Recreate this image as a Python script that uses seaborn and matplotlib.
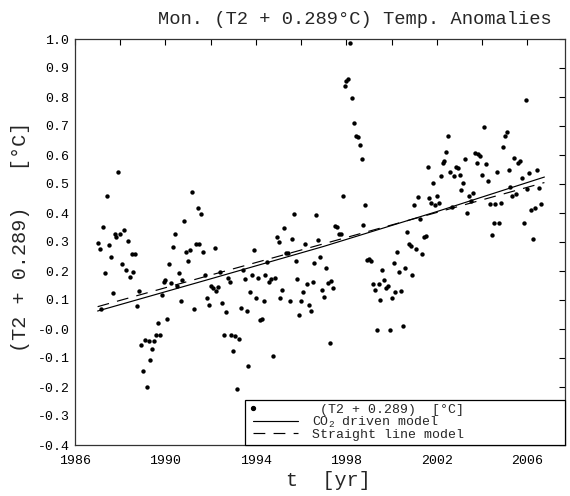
import numpy as np
import pandas as pd
import matplotlib
matplotlib.use("Agg")
import matplotlib.pyplot as plt
import seaborn as sns
from matplotlib.lines import Line2D
from matplotlib.font_manager import FontProperties

# ---------------- data ----------------
start_year = 1987.0  # monthly values start January 1987

anom_1987_1991 = [0.298, 0.277, 0.069, 0.351, 0.194, 0.457, 0.288, 0.248, 0.125, 0.328,
                  0.316, 0.542, 0.327, 0.225, 0.341, 0.205, 0.302, 0.181, 0.258, 0.198,
                  0.258, 0.080, 0.132, -0.054, -0.144, -0.038, -0.200, -0.040, -0.107, -0.069,
                  -0.040, -0.022, 0.022, -0.022, 0.116, 0.163, 0.168, 0.033, 0.225, 0.159,
                  0.282, 0.328, 0.147, 0.193, 0.095, 0.168, 0.373, 0.265, 0.235, 0.273,
                  0.471, 0.069, 0.294, 0.417, 0.294, 0.395, 0.266, 0.186, 0.107, 0.084,
                  0.149]
anom_1992_1997 = [0.141, 0.281, 0.130, 0.145, 0.195, 0.091, -0.022, 0.058, 0.176, 0.162,
                  -0.022, -0.075, -0.023, -0.206, -0.036, 0.072, 0.204, 0.172, 0.063, -0.126,
                  0.126, 0.185, 0.271, 0.106, 0.177, 0.031, 0.033, 0.096, 0.187, 0.230,
                  0.163, 0.172, -0.093, 0.176, 0.316, 0.300, 0.108, 0.135, 0.349, 0.263,
                  0.262, 0.095, 0.310, 0.397, 0.233, 0.174, 0.049, 0.096, 0.126, 0.294,
                  0.154, 0.084, 0.063, 0.163, 0.228, 0.394, 0.306, 0.247, 0.135, 0.112,
                  0.211, 0.158, -0.049]
anom_1997_2002 = [0.164, 0.142, 0.354, 0.351, 0.328, 0.328, 0.457, 0.838, 0.856, 0.861,
                  0.985, 0.796, 0.709, 0.664, 0.661, 0.633, 0.587, 0.359, 0.426, 0.239,
                  0.243, 0.236, 0.155, 0.134, -0.002, 0.156, 0.099, 0.202, 0.170, 0.141,
                  0.147, -0.002, 0.107, 0.227, 0.126, 0.267, 0.197, 0.132, 0.009, 0.209,
                  0.333, 0.294, 0.285, 0.187, 0.429, 0.275, 0.455, 0.379, 0.259, 0.317,
                  0.319, 0.557, 0.453, 0.436, 0.505, 0.428, 0.459, 0.436, 0.526, 0.572,
                  0.581, 0.612, 0.664]
anom_2002_2006 = [0.543, 0.420, 0.526, 0.557, 0.554, 0.532, 0.480, 0.503, 0.587, 0.399,
                  0.457, 0.443, 0.468, 0.606, 0.572, 0.605, 0.595, 0.532, 0.696, 0.568,
                  0.512, 0.432, 0.325, 0.367, 0.432, 0.543, 0.367, 0.436, 0.629, 0.666,
                  0.681, 0.549, 0.491, 0.460, 0.589, 0.465, 0.572, 0.581, 0.520, 0.365,
                  0.790, 0.483, 0.537, 0.411, 0.311, 0.417, 0.549, 0.487, 0.432]

model_years = [1987.0, 1992.0, 1997.0, 2002.0, 2006.75]
co2_model = [0.062, 0.173, 0.285, 0.405, 0.524]
straight_model = [0.077, 0.186, 0.294, 0.402, 0.505]

title = "Mon. (T2 + 0.289°C) Temp. Anomalies"
xlabel = "t  [yr]"
ylabel = "(T2 + 0.289)   [°C]"
legend_labels = ["(T2 + 0.289)  [°C]", r"CO$_2$ driven model", "Straight line model"]

# ---------------- build frame ----------------
anom = np.array(anom_1987_1991 + anom_1992_1997 + anom_1997_2002 + anom_2002_2006)
months = np.arange(len(anom))
df = pd.DataFrame({"t": start_year + months / 12.0, "anom": anom})
models = pd.DataFrame({"t": model_years, "co2": co2_model, "line": straight_model})

sns.set_theme(style="white")
mono = "Liberation Mono"
fam = [mono, "DejaVu Sans Mono", "DejaVu Sans"]
plt.rcParams["font.family"] = fam
plt.rcParams["axes.unicode_minus"] = False
plt.rcParams["mathtext.fontset"] = "custom"
plt.rcParams["mathtext.rm"] = mono
plt.rcParams["mathtext.it"] = mono

fig = plt.figure(figsize=(5.70, 4.96), dpi=100)
ax = fig.add_axes([75 / 570, 1 - 445 / 496, 490 / 570, 406 / 496])

sns.scatterplot(data=df, x="t", y="anom", ax=ax, color="black", s=10,
                linewidth=0, legend=False, zorder=3)
sns.lineplot(data=models, x="t", y="co2", ax=ax, color="black", lw=0.85,
             legend=False, zorder=2)
sns.lineplot(data=models, x="t", y="line", ax=ax, color="black", lw=0.85,
             linestyle=(0, (10, 7)), legend=False, zorder=2)

ax.set_xlim(1986, 2007.66)
ax.set_ylim(-0.4, 1.0)
years = list(range(1986, 2007, 2))
ax.set_xticks(years)
ax.set_xticklabels([str(y) if (y - 1986) % 4 == 0 else "" for y in years])
yt = np.round(np.arange(-0.4, 1.001, 0.1), 1)
ax.set_yticks(yt)
ax.set_yticklabels([f"{v:.1f}" for v in yt])
ax.tick_params(axis="both", which="both", direction="in", length=4, width=0.8,
               top=True, right=True, labelsize=9.5, colors="black")
ax.tick_params(axis="x", pad=7)
ax.tick_params(axis="y", pad=4)
for sp in ax.spines.values():
    sp.set_color("#333333")
    sp.set_linewidth(0.9)
ax.set_xlabel("")
ax.set_ylabel("")

# titles / labels
fig.text(355 / 570, 1 - 19 / 496, title, ha="center", va="center", fontsize=13.5,
         family=fam)
fig.text(328 / 570, 1 - 481 / 496, xlabel, ha="center", va="center", fontsize=14.5,
         family=fam)
fig.text(21 / 570, 1 - 237 / 496, ylabel, ha="center", va="center", fontsize=14.5,
         rotation=90, family=fam)

# legend
h1 = Line2D([0], [0], color="black", marker="o", markersize=2.8, linestyle="None")
h2 = Line2D([0], [0], color="black", lw=0.85)
h3 = Line2D([0], [0], color="black", lw=0.85, linestyle=(0, (10, 7)))
leg = ax.legend([h1, h2, h3], legend_labels, loc="lower right",
                bbox_to_anchor=(0.347, 0.0, 0.653, 0.2), mode="expand",
                borderaxespad=0, numpoints=2, handlelength=4.0, handletextpad=0.8,
                labelspacing=-0.08, borderpad=0.3, fancybox=False, framealpha=1,
                edgecolor="black", prop=FontProperties(family=fam, size=9.5))
leg.get_frame().set_linewidth(0.9)
leg.legend_handles[0].set_markevery([0])
leg.get_texts()[0].set_text(" (T2 + 0.289)  [°C]")

fig.savefig("out.png", dpi=100)
